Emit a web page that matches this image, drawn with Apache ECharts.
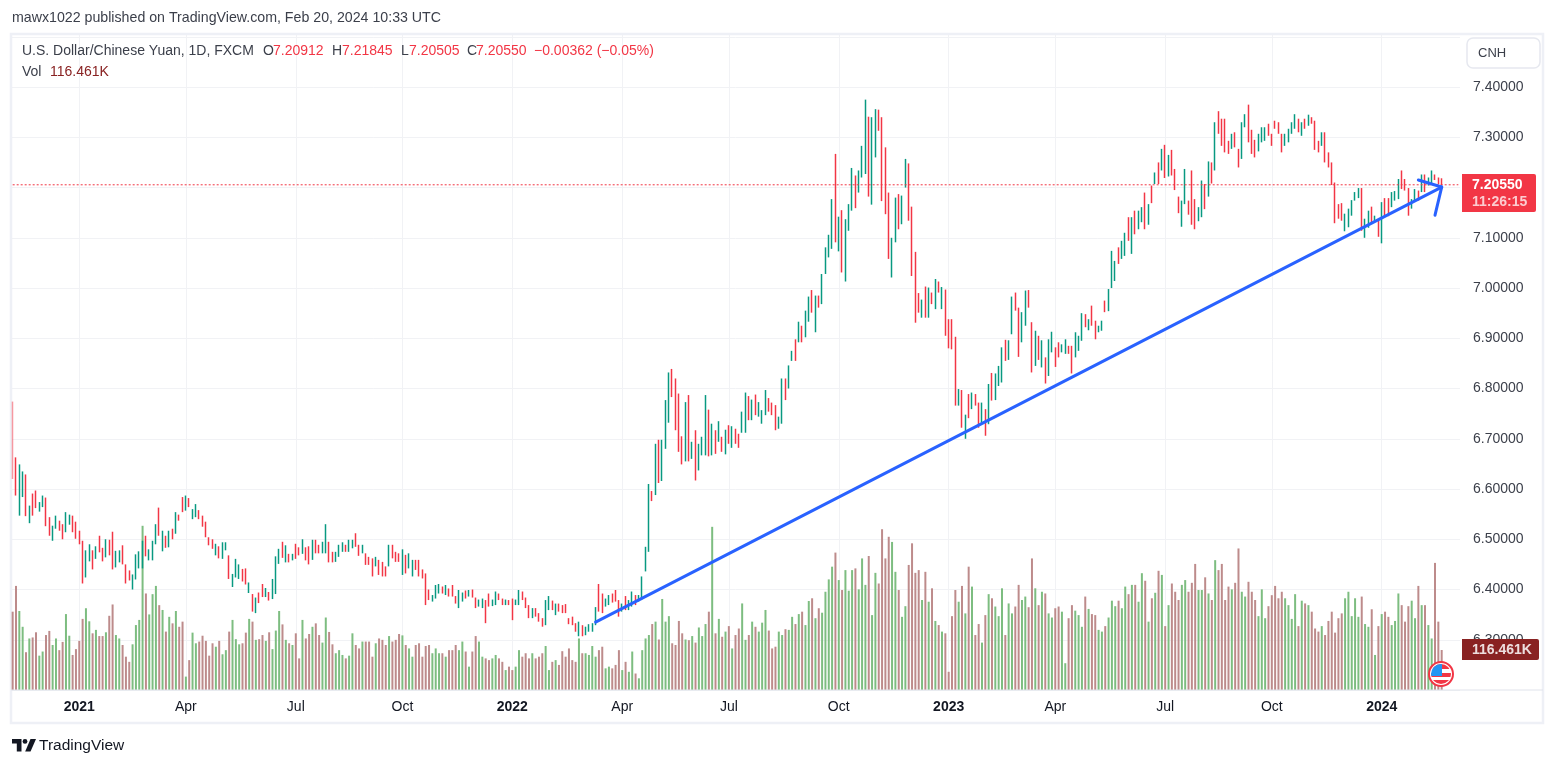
<!DOCTYPE html>
<html>
<head>
    <meta charset="utf-8">
    <title>USDCNH</title>
    <script src="https://cdn.jsdelivr.net/npm/echarts@6/dist/echarts.min.js"></script>
    <style>
        html, body { margin: 0; padding: 0; background: #fff; }
        #main { width: 1555px; height: 766px; }
    </style>
</head>
<body>
    <div id="main"></div>
    <script>
        // every bar stands for two trading days, ten bars per row
        var closes = [
            6.63,6.6,6.63,6.63,6.565,6.565,6.555,6.57,6.57,6.585,
            6.535,6.515,6.52,6.54,6.52,6.505,6.55,6.545,6.525,6.51,
            6.495,6.445,6.475,6.48,6.45,6.48,6.48,6.462,6.495,6.475,
            6.45,6.47,6.472,6.455,6.425,6.425,6.42,6.465,6.465,6.485,
            6.47,6.475,6.49,6.525,6.515,6.51,6.49,6.515,6.505,6.55,
            6.54,6.56,6.585,6.566,6.56,6.565,6.545,6.53,6.508,6.49,
            6.484,6.488,6.465,6.49,6.49,6.43,6.43,6.455,6.445,6.42,
            6.415,6.41,6.365,6.38,6.376,6.388,6.4,6.38,6.415,6.46,
            6.478,6.47,6.483,6.458,6.47,6.465,6.47,6.497,6.462,6.455,
            6.49,6.475,6.478,6.49,6.525,6.46,6.458,6.47,6.485,6.49,
            6.477,6.495,6.495,6.49,6.47,6.485,6.452,6.45,6.44,6.46,
            6.435,6.44,6.43,6.485,6.465,6.46,6.457,6.475,6.445,6.468,
            6.455,6.442,6.43,6.425,6.38,6.385,6.385,6.405,6.405,6.395,
            6.404,6.39,6.39,6.375,6.395,6.392,6.385,6.396,6.386,6.366,
            6.378,6.38,6.345,6.37,6.378,6.394,6.38,6.372,6.378,6.372,
            6.36,6.378,6.397,6.38,6.366,6.347,6.36,6.35,6.34,6.33,
            6.375,6.383,6.362,6.37,6.358,6.355,6.356,6.333,6.332,6.32,
            6.33,6.31,6.322,6.328,6.33,6.36,6.365,6.36,6.38,6.385,
            6.378,6.38,6.352,6.37,6.365,6.376,6.392,6.372,6.387,6.42,
            6.482,6.605,6.578,6.685,6.63,6.692,6.77,6.825,6.79,6.73,
            6.7,6.655,6.76,6.665,6.688,6.63,6.68,6.7,6.78,6.675,
            6.72,6.685,6.73,6.68,6.712,6.695,6.722,6.695,6.685,6.75,
            6.785,6.745,6.775,6.75,6.77,6.755,6.79,6.76,6.75,6.735,
            6.74,6.815,6.785,6.84,6.87,6.865,6.93,6.895,6.95,6.98,
            6.955,6.98,6.965,7.02,7.075,7.1,7.17,7.105,7.135,7.09,
            7.13,7.16,7.23,7.18,7.23,7.275,7.34,7.21,7.33,7.35,
            7.32,7.2,7.17,7.08,7.09,7.17,7.125,7.175,7.25,7.14,
            7.04,6.95,6.965,6.97,6.95,6.995,6.97,7.01,6.995,7.0,
            6.925,6.89,6.88,6.78,6.795,6.74,6.74,6.75,6.788,6.77,
            6.735,6.765,6.73,6.8,6.785,6.825,6.84,6.875,6.865,6.89,
            6.975,6.96,6.9,6.945,6.99,6.965,6.86,6.91,6.87,6.885,
            6.825,6.89,6.905,6.86,6.87,6.885,6.895,6.872,6.855,6.908,
            6.9,6.945,6.925,6.935,6.93,6.905,6.923,6.932,6.955,6.995,
            7.07,7.045,7.05,7.09,7.105,7.1,7.135,7.12,7.148,7.155,
            7.125,7.16,7.175,7.227,7.215,7.27,7.245,7.26,7.24,7.2,
            7.155,7.17,7.23,7.15,7.16,7.13,7.155,7.205,7.175,7.245,
            7.21,7.31,7.31,7.295,7.28,7.27,7.3,7.285,7.25,7.32,
            7.34,7.3,7.28,7.265,7.3,7.315,7.315,7.305,7.287,7.32,
            7.31,7.275,7.305,7.315,7.328,7.34,7.315,7.325,7.32,7.343,
            7.33,7.28,7.273,7.305,7.26,7.245,7.21,7.135,7.14,7.14,
            7.145,7.15,7.172,7.188,7.197,7.13,7.13,7.15,7.135,7.142,
            7.11,7.165,7.15,7.15,7.188,7.19,7.215,7.2,7.197,7.155,
            7.174,7.195,7.178,7.222,7.195,7.218,7.23,7.217,7.21,7.2055
        ];
        var opens = [
            6.72,6.63,6.59,6.6,6.63,6.545,6.585,6.59,6.56,6.57,
            6.58,6.535,6.505,6.525,6.535,6.525,6.515,6.535,6.545,6.53,
            6.515,6.495,6.44,6.46,6.475,6.465,6.5,6.48,6.47,6.495,
            6.51,6.45,6.46,6.48,6.445,6.435,6.4,6.425,6.45,6.45,
            6.5,6.465,6.47,6.5,6.56,6.48,6.505,6.49,6.52,6.515,
            6.548,6.58,6.56,6.58,6.542,6.55,6.556,6.545,6.53,6.503,
            6.498,6.47,6.484,6.465,6.48,6.466,6.41,6.43,6.43,6.44,
            6.44,6.395,6.39,6.36,6.392,6.408,6.388,6.393,6.385,6.395,
            6.455,6.49,6.46,6.47,6.46,6.488,6.482,6.475,6.482,6.484,
            6.465,6.495,6.487,6.475,6.48,6.49,6.472,6.458,6.468,6.478,
            6.487,6.478,6.485,6.51,6.487,6.473,6.47,6.463,6.46,6.448,
            6.458,6.453,6.444,6.45,6.487,6.473,6.47,6.44,6.465,6.447,
            6.43,6.457,6.457,6.438,6.43,6.398,6.378,6.385,6.395,6.404,
            6.392,6.4,6.407,6.385,6.37,6.38,6.396,6.388,6.398,6.382,
            6.367,6.365,6.377,6.39,6.368,6.372,6.39,6.38,6.37,6.377,
            6.38,6.37,6.372,6.394,6.382,6.367,6.345,6.36,6.351,6.341,
            6.333,6.365,6.376,6.352,6.37,6.367,6.369,6.342,6.344,6.331,
            6.31,6.327,6.312,6.318,6.32,6.332,6.405,6.39,6.368,6.37,
            6.39,6.397,6.377,6.358,6.385,6.362,6.37,6.387,6.378,6.382,
            6.44,6.49,6.594,6.59,6.695,6.62,6.69,6.74,6.835,6.815,
            6.785,6.7,6.66,6.78,6.665,6.715,6.64,6.67,6.69,6.75,
            6.67,6.715,6.695,6.7,6.672,6.725,6.685,6.718,6.708,6.715,
            6.72,6.78,6.74,6.785,6.746,6.735,6.75,6.78,6.77,6.765,
            6.725,6.735,6.815,6.805,6.86,6.895,6.895,6.92,6.905,6.935,
            6.99,6.915,6.98,6.97,7.03,7.065,7.08,7.19,7.08,7.15,
            7.02,7.12,7.16,7.22,7.195,7.225,7.24,7.335,7.2,7.27,
            7.35,7.33,7.275,7.185,7.03,7.095,7.185,7.13,7.205,7.245,
            7.16,7.07,6.985,6.945,7.0,6.95,6.99,6.96,7.01,6.96,
            6.995,6.93,6.935,6.9,6.77,6.795,6.705,6.785,6.76,6.787,
            6.77,6.735,6.755,6.735,6.825,6.78,6.81,6.82,6.89,6.86,
            6.915,6.988,6.958,6.9,6.935,6.993,6.93,6.85,6.9,6.85,
            6.86,6.83,6.875,6.88,6.89,6.875,6.872,6.883,6.883,6.865,
            6.88,6.9,6.945,6.92,6.962,6.932,6.914,6.917,6.972,6.958,
            7.005,7.02,7.078,7.06,7.07,7.135,7.075,7.15,7.12,7.135,
            7.185,7.13,7.2,7.21,7.245,7.235,7.28,7.23,7.27,7.235,
            7.18,7.13,7.17,7.17,7.225,7.175,7.135,7.145,7.205,7.19,
            7.245,7.235,7.35,7.33,7.335,7.29,7.28,7.305,7.27,7.265,
            7.322,7.36,7.31,7.29,7.275,7.292,7.295,7.325,7.305,7.33,
            7.328,7.305,7.285,7.295,7.31,7.32,7.335,7.305,7.335,7.325,
            7.338,7.33,7.29,7.285,7.305,7.265,7.245,7.205,7.165,7.167,
            7.118,7.125,7.148,7.176,7.182,7.195,7.105,7.125,7.16,7.133,
            7.132,7.115,7.175,7.176,7.165,7.176,7.18,7.23,7.215,7.197,
            7.16,7.176,7.192,7.195,7.222,7.205,7.21,7.224,7.218,7.20912
        ];
        var highs = [
            6.774,6.663,6.649,6.635,6.629,6.567,6.591,6.597,6.574,6.587,
            6.583,6.544,6.527,6.547,6.537,6.53,6.554,6.549,6.547,6.535,
            6.517,6.497,6.478,6.49,6.478,6.486,6.507,6.483,6.5,6.499,
            6.515,6.477,6.478,6.488,6.45,6.438,6.43,6.47,6.476,6.497,
            6.507,6.48,6.497,6.53,6.563,6.517,6.507,6.517,6.521,6.554,
            6.549,6.584,6.587,6.582,6.56,6.57,6.558,6.547,6.535,6.504,
            6.5,6.491,6.486,6.494,6.494,6.468,6.431,6.461,6.45,6.441,
            6.442,6.414,6.391,6.384,6.394,6.411,6.403,6.395,6.421,6.466,
            6.481,6.495,6.488,6.471,6.471,6.491,6.484,6.5,6.484,6.486,
            6.499,6.499,6.489,6.495,6.53,6.495,6.475,6.475,6.489,6.494,
            6.489,6.499,6.499,6.512,6.489,6.489,6.472,6.465,6.462,6.465,
            6.459,6.455,6.446,6.489,6.489,6.475,6.472,6.48,6.469,6.472,
            6.459,6.459,6.459,6.44,6.432,6.4,6.389,6.409,6.411,6.406,
            6.409,6.402,6.409,6.387,6.399,6.394,6.398,6.399,6.4,6.384,
            6.38,6.382,6.379,6.392,6.38,6.396,6.392,6.382,6.38,6.379,
            6.382,6.38,6.399,6.396,6.384,6.369,6.363,6.363,6.353,6.343,
            6.379,6.387,6.378,6.372,6.372,6.369,6.371,6.343,6.346,6.333,
            6.336,6.329,6.326,6.331,6.333,6.365,6.411,6.392,6.382,6.389,
            6.392,6.399,6.379,6.372,6.387,6.379,6.396,6.389,6.389,6.426,
            6.485,6.61,6.596,6.69,6.698,6.698,6.777,6.832,6.839,6.82,
            6.79,6.705,6.773,6.787,6.694,6.717,6.69,6.704,6.787,6.758,
            6.73,6.717,6.735,6.704,6.718,6.727,6.725,6.72,6.71,6.754,
            6.792,6.785,6.778,6.788,6.773,6.757,6.797,6.781,6.772,6.767,
            6.744,6.82,6.82,6.846,6.875,6.898,6.933,6.925,6.955,6.983,
            6.996,6.985,6.985,7.028,7.081,7.106,7.177,7.267,7.142,7.155,
            7.137,7.167,7.239,7.224,7.234,7.283,7.375,7.341,7.34,7.356,
            7.355,7.34,7.28,7.19,7.1,7.18,7.187,7.184,7.257,7.248,
            7.162,7.072,6.99,6.977,7.003,7.001,6.991,7.018,7.013,7.002,
            6.997,6.938,6.938,6.903,6.799,6.797,6.748,6.789,6.792,6.789,
            6.772,6.772,6.759,6.809,6.831,6.83,6.845,6.882,6.897,6.896,
            6.983,6.991,6.961,6.952,6.995,6.996,6.932,6.915,6.905,6.896,
            6.862,6.898,6.913,6.882,6.892,6.888,6.898,6.885,6.885,6.912,
            6.905,6.95,6.948,6.938,6.965,6.935,6.925,6.935,6.975,6.998,
            7.074,7.054,7.081,7.094,7.11,7.141,7.141,7.154,7.154,7.161,
            7.19,7.167,7.204,7.23,7.25,7.277,7.285,7.265,7.275,7.237,
            7.182,7.174,7.237,7.174,7.234,7.177,7.161,7.214,7.207,7.252,
            7.25,7.33,7.352,7.337,7.337,7.293,7.307,7.31,7.277,7.33,
            7.346,7.365,7.315,7.295,7.307,7.32,7.32,7.327,7.307,7.333,
            7.33,7.307,7.307,7.317,7.33,7.346,7.337,7.33,7.337,7.345,
            7.34,7.333,7.293,7.31,7.31,7.27,7.25,7.21,7.167,7.169,
            7.148,7.158,7.175,7.191,7.199,7.199,7.138,7.154,7.162,7.144,
            7.134,7.171,7.179,7.179,7.191,7.193,7.217,7.234,7.217,7.199,
            7.177,7.197,7.194,7.226,7.226,7.22,7.234,7.226,7.22,7.21845
        ];
        var lows = [
            6.62,6.587,6.547,6.584,6.546,6.532,6.547,6.562,6.555,6.564,
            6.526,6.507,6.497,6.521,6.517,6.5,6.514,6.529,6.514,6.501,
            6.49,6.412,6.424,6.456,6.44,6.461,6.474,6.456,6.464,6.468,
            6.44,6.444,6.454,6.45,6.412,6.418,6.4,6.42,6.442,6.442,
            6.466,6.458,6.458,6.49,6.507,6.476,6.483,6.484,6.5,6.511,
            6.537,6.554,6.557,6.564,6.54,6.544,6.54,6.525,6.504,6.488,
            6.481,6.468,6.462,6.461,6.478,6.421,6.405,6.424,6.421,6.416,
            6.41,6.393,6.356,6.353,6.373,6.385,6.385,6.378,6.381,6.391,
            6.451,6.463,6.454,6.454,6.458,6.461,6.468,6.471,6.458,6.45,
            6.459,6.472,6.472,6.472,6.472,6.454,6.454,6.455,6.465,6.475,
            6.475,6.475,6.482,6.485,6.467,6.472,6.449,6.449,6.426,6.446,
            6.429,6.426,6.426,6.446,6.462,6.455,6.455,6.429,6.432,6.442,
            6.426,6.439,6.426,6.422,6.369,6.379,6.376,6.382,6.392,6.392,
            6.389,6.386,6.386,6.372,6.363,6.376,6.382,6.386,6.384,6.363,
            6.366,6.363,6.333,6.366,6.367,6.369,6.379,6.369,6.369,6.369,
            6.339,6.369,6.369,6.379,6.363,6.343,6.343,6.346,6.336,6.326,
            6.329,6.359,6.359,6.349,6.356,6.353,6.353,6.331,6.329,6.316,
            6.307,6.307,6.309,6.316,6.316,6.329,6.356,6.353,6.366,6.369,
            6.374,6.376,6.346,6.356,6.359,6.359,6.366,6.369,6.376,6.379,
            6.436,6.475,6.576,6.588,6.612,6.616,6.68,6.732,6.783,6.717,
            6.674,6.649,6.655,6.655,6.66,6.617,6.637,6.667,6.667,6.665,
            6.667,6.67,6.694,6.674,6.669,6.69,6.682,6.69,6.682,6.712,
            6.712,6.737,6.737,6.747,6.744,6.73,6.747,6.754,6.747,6.717,
            6.72,6.73,6.777,6.8,6.855,6.855,6.892,6.892,6.902,6.933,
            6.951,6.912,6.961,6.968,7.028,7.061,7.078,7.091,7.073,7.031,
            7.013,7.114,7.154,7.159,7.19,7.22,7.227,7.182,7.166,7.26,
            7.313,7.173,7.147,7.058,7.021,7.091,7.117,7.127,7.2,7.134,
            7.024,6.931,6.951,6.941,6.941,6.941,6.968,6.958,6.991,6.958,
            6.905,6.88,6.878,6.766,6.766,6.722,6.7,6.741,6.759,6.766,
            6.722,6.732,6.706,6.729,6.776,6.777,6.805,6.812,6.855,6.857,
            6.908,6.955,6.863,6.892,6.925,6.961,6.832,6.845,6.857,6.842,
            6.81,6.825,6.872,6.843,6.862,6.872,6.869,6.869,6.83,6.862,
            6.875,6.895,6.922,6.916,6.925,6.898,6.912,6.915,6.952,6.954,
            7.0,7.014,7.048,7.058,7.064,7.094,7.068,7.107,7.117,7.131,
            7.117,7.126,7.169,7.207,7.207,7.234,7.219,7.222,7.224,7.195,
            7.149,7.122,7.167,7.146,7.126,7.117,7.133,7.141,7.157,7.182,
            7.208,7.234,7.307,7.283,7.27,7.267,7.277,7.28,7.24,7.257,
            7.32,7.29,7.267,7.26,7.272,7.29,7.293,7.303,7.283,7.317,
            7.307,7.27,7.283,7.29,7.307,7.317,7.31,7.303,7.317,7.323,
            7.327,7.275,7.27,7.283,7.25,7.24,7.205,7.129,7.138,7.134,
            7.113,7.121,7.144,7.174,7.179,7.114,7.1,7.12,7.128,7.131,
            7.102,7.089,7.141,7.143,7.161,7.174,7.177,7.197,7.194,7.144,
            7.158,7.174,7.174,7.191,7.191,7.204,7.207,7.215,7.207,7.20505
        ];
        // volume in K
        var volumes = [
            228,303,230,184,110,150,153,168,100,112,
            160,172,131,150,116,140,221,158,102,119,
            143,207,238,200,165,175,157,157,168,216,
            249,160,150,131,97,82,133,189,204,478,
            281,220,279,303,247,233,170,213,194,230,
            184,199,39,87,167,136,141,158,143,100,
            136,126,143,104,116,170,204,148,133,136,
            167,207,199,146,148,160,143,168,119,173,
            230,191,146,136,131,165,92,204,150,163,
            184,194,160,138,211,169,133,107,116,102,
            92,100,165,131,121,141,141,141,97,136,
            150,146,131,157,141,146,163,159,131,121,
            97,131,136,97,128,131,107,121,107,107,
            97,116,116,131,116,141,112,68,112,157,
            141,97,92,87,92,102,92,82,58,68,
            58,68,116,97,107,92,107,92,97,107,
            128,58,82,87,73,113,97,121,87,82,
            150,107,107,102,128,97,116,126,63,68,
            63,73,116,58,82,53,112,48,34,116,
            150,160,192,199,147,265,199,215,136,131,
            201,165,147,145,157,138,182,157,192,228,
            475,165,207,155,170,186,121,160,179,252,
            146,160,199,184,170,196,233,173,121,126,
            170,160,177,175,213,192,221,228,189,259,
            267,209,238,225,286,322,359,400,320,291,
            349,289,349,354,293,383,306,390,218,341,
            310,468,383,446,431,344,291,213,244,364,
            427,341,349,262,344,257,296,201,189,170,
            165,53,215,291,257,303,223,359,301,160,
            192,138,218,279,267,243,215,296,160,252,
            223,243,306,262,272,241,383,296,247,286,
            281,223,211,238,243,228,78,209,247,231,
            218,184,272,236,221,218,175,170,186,211,
            260,244,260,238,301,279,306,306,257,340,
            318,199,267,283,347,335,186,247,310,286,
            262,306,320,286,312,367,291,291,328,281,
            262,378,349,367,262,301,293,312,412,286,
            272,315,286,262,215,293,209,244,276,303,
            267,286,267,247,207,279,186,260,252,247,
            228,179,170,186,160,201,228,167,209,223,
            267,286,215,267,213,272,192,184,235,102,
            186,221,228,213,189,201,281,247,199,244,
            260,209,303,247,247,189,150,370,199,116.461
        ];
        var tickIndexes = [20, 52, 85, 117, 150, 183, 215, 248, 281, 313, 346, 378, 411];
        var tickLabels = ['2021', 'Apr', 'Jul', 'Oct', '2022', 'Apr', 'Jul', 'Oct', '2023', 'Apr', 'Jul', 'Oct', '2024'];
        var lastPrice = 7.2055;
        // drawn lines, [bar index, price]
        var trendLine = [[175, 6.335], [429, 7.201]];
        var arrowLeft = [[422, 7.215], [429, 7.201]];
        var arrowDown = [[427, 7.145], [429, 7.201]];

        var slots = 435;
        var font = '"Liberation Sans", Arial, sans-serif';
        var textColor = '#3b3f4a';

        var categories = [];
        for (var i = 0; i < slots; i++) {
            var at = tickIndexes.indexOf(i);
            categories.push(at >= 0 ? tickLabels[at] : '');
        }

        var candles = [];
        var volumeBars = [];
        for (var i = 0; i < closes.length; i++) {
            var item = { value: [opens[i], closes[i], lows[i], highs[i]] };
            if (i == 0) item.itemStyle = { opacity: 0.5 };
            candles.push(item);
            volumeBars.push({
                value: volumes[i],
                itemStyle: { color: closes[i] >= opens[i] ? '#7dbd80' : '#bd8b8b' }
            });
        }

        function seg(points) {
            return [{ coord: points[0] }, { coord: points[1] }];
        }

        function label(x, y, text, color, extra) {
            var style = { x: x, y: y, text: text, fill: color || textColor, font: '14px ' + font, textVerticalAlign: 'middle' };
            for (var k in extra) style[k] = extra[k];
            return { type: 'text', z: 50, style: style };
        }

        var flagSvg = '<svg xmlns="http://www.w3.org/2000/svg" width="28" height="28">' +
            '<defs><clipPath id="c"><circle cx="14" cy="14" r="10"/></clipPath></defs>' +
            '<circle cx="14" cy="14" r="12" fill="#fff" stroke="#f23645" stroke-width="2"/>' +
            '<g clip-path="url(#c)"><rect width="28" height="28" fill="#fff"/>' +
            '<rect y="4" width="28" height="5" fill="#f23645"/>' +
            '<rect y="13" width="28" height="4" fill="#f23645"/>' +
            '<rect y="20" width="28" height="5" fill="#f23645"/>' +
            '<rect x="3" y="4" width="12" height="12" fill="#2196f3"/></g></svg>';

        var logoSvg = '<svg xmlns="http://www.w3.org/2000/svg" width="24" height="13" fill="#131722">' +
            '<path d="M0 0H9.5V12.5H4.8V4.6H0Z"/><circle cx="13" cy="2.4" r="2.4"/>' +
            '<path d="M18.5 0H24L18.5 12.5H13.2Z"/></svg>';

        var red = '#f23645';
        var graphics = [
            { type: 'rect', z: 1, shape: { x: 11, y: 34, width: 1532, height: 689 }, style: { fill: 'none', stroke: '#eef0f6', lineWidth: 2.5 } },
            { type: 'line', z: 40, shape: { x1: 11, y1: 690, x2: 1543, y2: 690 }, style: { stroke: '#e0e3eb', lineWidth: 1 } },
            label(12, 18.5, 'mawx1022 published on TradingView.com, Feb 20, 2024 10:33 UTC', textColor, { font: '14.2px ' + font }),
            label(22, 51.5, 'U.S. Dollar/Chinese Yuan, 1D, FXCM'),
            label(263, 51.5, 'O'), label(273, 51.5, '7.20912', red),
            label(332, 51.5, 'H'), label(342, 51.5, '7.21845', red),
            label(401, 51.5, 'L'), label(409, 51.5, '7.20505', red),
            label(467, 51.5, 'C'), label(476, 51.5, '7.20550', red),
            label(534, 51.5, '\u22120.00362 (\u22120.05%)', red),
            label(22, 72.5, 'Vol'),
            label(50, 72.5, '116.461K', '#892222'),
            { type: 'rect', z: 50, shape: { x: 1467, y: 38, width: 73, height: 30, r: 6 }, style: { fill: '#fff', stroke: '#e6e8ef', lineWidth: 1.5 } },
            label(1478, 53, 'CNH', textColor, { font: '13px ' + font }),
            { type: 'rect', z: 50, shape: { x: 1462, y: 174, width: 74, height: 38, r: [0, 2, 2, 0] }, style: { fill: red } },
            label(1472, 185, '7.20550', '#fff', { font: 'bold 14px ' + font }),
            label(1472, 202, '11:26:15', 'rgba(255,255,255,0.75)', { font: 'bold 14px ' + font }),
            { type: 'rect', z: 50, shape: { x: 1462, y: 639, width: 77, height: 21, r: [0, 2, 2, 0] }, style: { fill: '#892222' } },
            label(1472, 650, '116.461K', 'rgba(255,255,255,0.85)', { font: 'bold 14px ' + font }),
            { type: 'image', z: 50, style: { image: 'data:image/svg+xml;charset=utf-8,' + encodeURIComponent(flagSvg), x: 1427, y: 660, width: 28, height: 28 } },
            { type: 'image', z: 50, style: { image: 'data:image/svg+xml;charset=utf-8,' + encodeURIComponent(logoSvg), x: 12, y: 739, width: 24, height: 13 } },
            label(39, 746, 'TradingView', '#131722', { font: '500 15.5px ' + font })
        ];

        window.onload = function () {
            var myChart = echarts.init(document.getElementById('main'));
            var option = {
                animation: false,
                backgroundColor: '#fff',
                grid: { left: 11, right: 95, top: 33.5, bottom: 76 },
                xAxis: {
                    type: 'category',
                    data: categories,
                    boundaryGap: true,
                    axisLine: { show: false },
                    axisTick: { show: false },
                    axisLabel: {
                        margin: 10,
                        interval: function (index) { return tickIndexes.indexOf(index) >= 0; },
                        fontFamily: font,
                        fontSize: 14,
                        color: '#131722',
                        formatter: function (value) {
                            return value.length == 4 ? '{y|' + value + '}' : value;
                        },
                        rich: { y: { fontFamily: font, fontSize: 14, fontWeight: 'bold', color: '#131722' } }
                    },
                    splitLine: {
                        show: true,
                        alignWithLabel: true,
                        interval: function (index) { return tickIndexes.indexOf(index) >= 0; },
                        lineStyle: { color: '#f1f2f5', width: 1 }
                    }
                },
                yAxis: [{
                    type: 'value',
                    position: 'right',
                    min: 6.2,
                    max: 7.5066,
                    interval: 0.1,
                    axisLine: { show: false },
                    axisTick: { show: false },
                    axisLabel: {
                        margin: 13,
                        fontFamily: font,
                        fontSize: 14,
                        color: '#3b3f4a',
                        formatter: function (v) {
                            return v < 6.25 || v > 7.45 ? '' : v.toFixed(5);
                        }
                    },
                    splitLine: { show: true, lineStyle: { color: '#f1f2f5', width: 1 } }
                }, {
                    type: 'value',
                    min: 0,
                    max: 1911,
                    show: false
                }],
                series: [{
                    name: 'Vol',
                    type: 'bar',
                    xAxisIndex: 0,
                    yAxisIndex: 1,
                    barWidth: 2,
                    z: 2,
                    data: volumeBars
                }, {
                    name: 'Last',
                    type: 'line',
                    xAxisIndex: 0,
                    yAxisIndex: 0,
                    symbol: 'none',
                    silent: true,
                    z: 4,
                    lineStyle: { color: red, width: 1, type: [2, 2] },
                    data: [[0, lastPrice], [434, lastPrice]]
                }, {
                    name: 'USDCNH',
                    type: 'candlestick',
                    xAxisIndex: 0,
                    yAxisIndex: 0,
                    barWidth: 1,
                    z: 3,
                    itemStyle: {
                        color: '#089981',
                        color0: red,
                        borderColor: '#089981',
                        borderColor0: red,
                        borderWidth: 1.5
                    },
                    data: candles,
                    markLine: {
                        silent: true,
                        symbol: ['none', 'none'],
                        label: { show: false },
                        z: 10,
                        data: [seg(trendLine), seg(arrowLeft), seg(arrowDown)],
                        lineStyle: { color: '#2962ff', width: 3, type: 'solid', cap: 'round' }
                    }
                }],
                graphic: graphics
            };
            myChart.setOption(option);
        };
    </script>
</body>
</html>
